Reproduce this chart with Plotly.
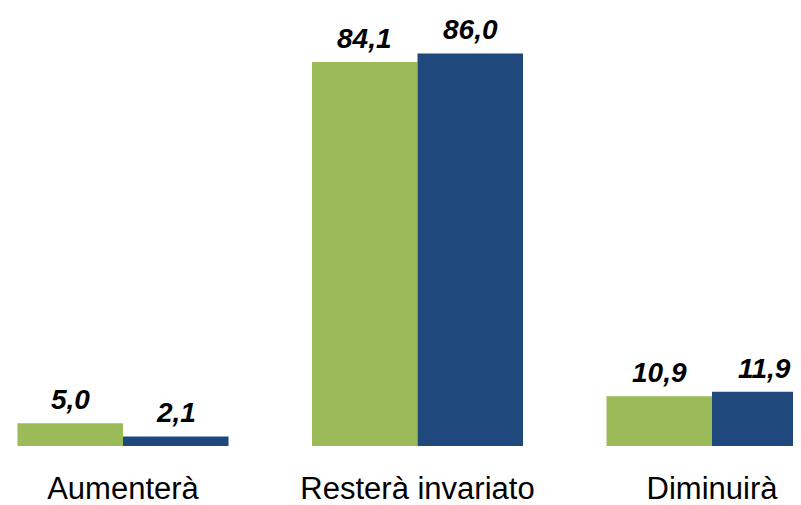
import plotly.graph_objects as go

categories = ["Aumenterà", "Resterà invariato", "Diminuirà"]
series_a = [5.0, 84.1, 10.9]
series_b = [2.1, 86.0, 11.9]
labels_a = ["5,0", "84,1", "10,9"]
labels_b = ["2,1", "86,0", "11,9"]

GREEN = "#9BBB59"
BLUE = "#1F497D"
FONT = "Liberation Sans, Arial, sans-serif"

fig = go.Figure()
fig.add_trace(go.Bar(x=categories, y=series_a, marker=dict(color=GREEN, line=dict(width=0)), name="A"))
fig.add_trace(go.Bar(x=categories, y=series_b, marker=dict(color=BLUE, line=dict(width=0)), name="B"))

half_bar_px = 52.7
for cat, ya, yb, la, lb in zip(categories, series_a, series_b, labels_a, labels_b):
    for yv, lab, sh in ((ya, la, -half_bar_px), (yb, lb, half_bar_px)):
        fig.add_annotation(x=cat, y=yv, text=f"<b><i>{lab}</i></b>", showarrow=False,
                           xanchor="center", yanchor="bottom", xshift=sh, yshift=6,
                           font=dict(family=FONT, size=28, color="black"))

# page body has an 8px default margin, so the figure is sized to fit the window
fig.update_layout(
    width=793, height=497,
    margin=dict(l=0, r=0, t=0, b=59),
    barmode="group", bargap=0.2835, bargroupgap=0,
    showlegend=False,
    plot_bgcolor="white", paper_bgcolor="white",
    xaxis=dict(range=[-0.3905, 2.3022], showgrid=False, showline=False, zeroline=False,
               ticks="", tickfont=dict(family=FONT, size=31, color="black"), ticklabelstandoff=21),
    yaxis=dict(range=[0, 95.95], visible=False),
)

fig.write_html("out.html")
